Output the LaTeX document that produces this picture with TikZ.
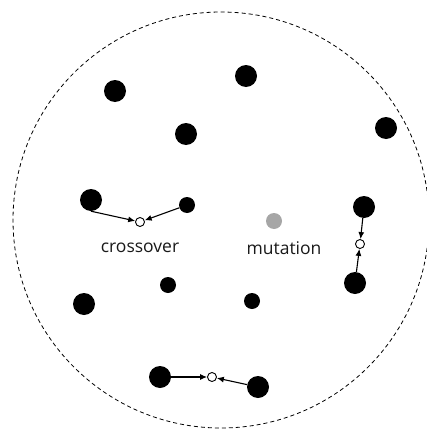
\documentclass[tikz,border=0pt]{standalone}
\usepackage{fontspec}
\setmainfont{Open Sans}
\usetikzlibrary{arrows.meta}
\begin{document}
\begin{tikzpicture}[x=1pt,y=-1pt,
  big/.style={circle,fill=black,inner sep=0pt,minimum size=22pt},
  small/.style={circle,fill=black,inner sep=0pt,minimum size=16pt},
  child/.style={circle,draw=black,fill=white,line width=0.9pt,inner sep=0pt,minimum size=9pt},
  mut/.style={circle,fill=black!35,inner sep=0pt,minimum size=16pt},
  lbl/.style={font=\fontsize{17.5}{19}\selectfont,text=black!90},
  conn/.style={line width=1.1pt,-{Latex[length=7pt,width=6pt]},shorten >=0pt}]
\useasboundingbox (0,0) rectangle (427,431);
\clip (0,0) rectangle (427,431);
\draw[dashed,line width=0.8pt,dash pattern=on 4pt off 3pt] (221,220) circle [radius=208];
\node[big] (a1) at (115,91) {};
\node[big] (a2) at (246,76) {};
\node[big] (a3) at (186,134) {};
\node[big] (a4) at (386,128) {};
\node[big] (p1) at (91,200) {};
\node[small] (p2) at (187,205) {};
\node[child] (c1) at (140,222) {};
\node[lbl] (t1) at (140,248) {crossover};
\node[mut] (m) at (274,221) {};
\node[lbl] (t2) at (284,248) {mutation};
\node[big] (q1) at (364,207) {};
\node[child] (c2) at (360,244) {};
\node[big] (q2) at (355,283) {};
\node[big] (b1) at (84,304) {};
\node[small] (b2) at (168,285) {};
\node[small] (b3) at (252,301) {};
\node[big] (r1) at (160,377) {};
\node[child] (c3) at (212,377) {};
\node[big] (r2) at (258,387) {};
\draw[conn] (p1.south) -- (c1);
\draw[conn] (p2) -- (c1);
\draw[conn] (q1) -- (c2);
\draw[conn] (q2) -- (c2);
\draw[conn] (r1) -- (c3);
\draw[conn] (r2) -- (c3);
\end{tikzpicture}
\end{document}
